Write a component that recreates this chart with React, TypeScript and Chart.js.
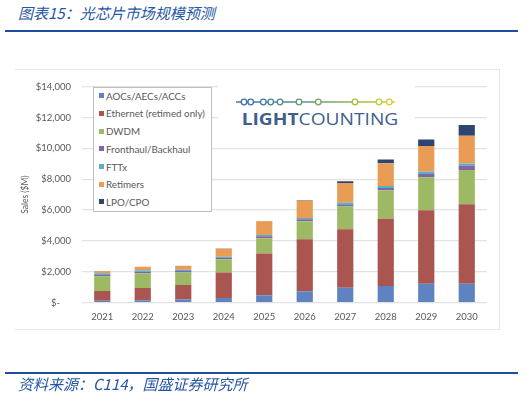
import React, { useEffect, useRef } from "react";
import { Chart, registerables } from "chart.js";

Chart.register(...registerables);

const categories = ["2021", "2022", "2023", "2024", "2025", "2026", "2027", "2028", "2029", "2030"];
const aocs = [120, 140, 200, 300, 475, 730, 960, 1065, 1210, 1210];
const ethernet = [630, 800, 930, 1650, 2700, 3380, 3800, 4370, 4770, 5170];
const dwdm = [950, 950, 820, 850, 990, 1160, 1460, 1840, 2150, 2220];
const fronthaul = [90, 100, 100, 80, 130, 125, 100, 150, 210, 280];
const fttx = [100, 100, 70, 80, 80, 80, 150, 130, 150, 145];
const retimers = [150, 230, 270, 530, 890, 1140, 1290, 1480, 1670, 1790];
const lpo = [0, 0, 0, 10, 20, 30, 100, 250, 420, 700];

const seriesNames = [
  "AOCs/AECs/ACCs",
  "Ethernet (retimed only)",
  "DWDM",
  "Fronthaul/Backhaul",
  "FTTx",
  "Retimers",
  "LPO/CPO",
];
const seriesColors = ["#5F83C1", "#AA5550", "#9DB964", "#7F66A6", "#5BAEC8", "#E99C56", "#2E4571"];
const seriesData = [aocs, ethernet, dwdm, fronthaul, fttx, retimers, lpo];

const yTicks = [0, 2000, 4000, 6000, 8000, 10000, 12000, 14000];

const logoCircles = [244, 250.7, 263.3, 270.7, 280, 299, 318.3, 355, 379, 389.3];
const logoColors = ["#3f73a8", "#3f73a8", "#437aa6", "#4a82a0", "#4f8a95", "#5f9a76", "#76a85a", "#a9bf3c", "#c7c93a", "#d3cd3a"];

export default function App() {
  const ref = useRef<HTMLCanvasElement | null>(null);

  useEffect(() => {
    if (!ref.current) return;
    const chart = new Chart(ref.current, {
      type: "bar",
      data: {
        labels: categories,
        datasets: seriesData.map((d, i) => ({
          label: seriesNames[i],
          data: d,
          backgroundColor: seriesColors[i],
          borderWidth: 0,
          categoryPercentage: 0.4,
          barPercentage: 1,
        })),
      },
      options: {
        animation: false,
        responsive: false,
        maintainAspectRatio: false,
        layout: { padding: { top: 11.5, right: 12, left: 0, bottom: 0 } },
        plugins: { legend: { display: false }, tooltip: { enabled: false } },
        scales: {
          x: {
            stacked: true,
            grid: { display: false, drawTicks: false },
            border: { display: false },
            ticks: { color: "#595959", font: { family: "Lato", size: 9.5 }, padding: 9 },
            afterFit: (s: any) => {
              s.height = 25.5;
            },
          },
          y: {
            stacked: true,
            min: 0,
            max: 14000,
            afterBuildTicks: (s: any) => {
              s.ticks = yTicks.map((v) => ({ value: v }));
            },
            grid: { color: "#e2e2e2", lineWidth: 1.2, drawTicks: false },
            border: { display: false },
            ticks: {
              color: "#595959",
              font: { family: "Lato", size: 9.5 },
              padding: 11,
              callback: (v: any) => (Number(v) === 0 ? "$-\u2007\u2007" : "$" + Number(v).toLocaleString("en-US")),
            },
            title: {
              display: true,
              text: "Sales ($M)",
              color: "#595959",
              font: { family: "Lato", size: 8.5 },
              padding: { top: 5.5, bottom: 0 },
            },
            afterFit: (s: any) => {
              s.width = 67;
            },
          },
        },
      },
    });
    return () => chart.destroy();
  }, []);

  const blue = "#1F4E9A";

  return (
    <div style={{ position: "absolute", left: 0, top: 0, width: 526, height: 397, background: "#fff", overflow: "hidden" }}>
      <div
        style={{
          position: "absolute",
          left: 18,
          top: 3,
          fontFamily: "'Noto Sans CJK SC', sans-serif",
          fontStyle: "italic",
          fontSize: 15,
          lineHeight: "20px",
          color: "#2656a3",
          whiteSpace: "nowrap",
        }}
      >
        图表15：光芯片市场规模预测
      </div>
      <div style={{ position: "absolute", left: 5, top: 29.5, width: 513, height: 2, background: blue }} />

      <div
        style={{
          position: "absolute",
          left: 15,
          top: 69,
          width: 484,
          height: 259,
          borderTop: "1px solid #e6e6e6",
          borderRight: "1px solid #e6e6e6",
          borderBottom: "1px solid #e6e6e6",
        }}
      />
      <canvas ref={ref} width={484} height={258} style={{ position: "absolute", left: 15, top: 70, width: 484, height: 258 }} />

      <div
        style={{
          position: "absolute",
          left: 92.5,
          top: 86.5,
          width: 117.5,
          height: 123.5,
          border: "1px solid #bfbfbf",
          background: "#fff",
        }}
      />
      {seriesNames.map((n, i) => (
        <div
          key={n}
          style={{
            position: "absolute",
            left: 98.5,
            top: 95.7 + 17.7 * i - 7,
            height: 14,
            display: "flex",
            alignItems: "center",
            fontFamily: "Lato, sans-serif",
            fontSize: 9.8,
            color: "#595959",
            whiteSpace: "nowrap",
          }}
        >
          <span style={{ display: "inline-block", width: 5, height: 5, background: seriesColors[i], marginRight: 2.5 }} />
          <span>{n}</span>
        </div>
      ))}

      <div style={{ position: "absolute", left: 218, top: 86, width: 197, height: 46, background: "#fff" }} />
      <svg style={{ position: "absolute", left: 0, top: 0 }} width={526} height={397}>
        <defs>
          <linearGradient id="lg" x1="236" y1="0" x2="395" y2="0" gradientUnits="userSpaceOnUse">
            <stop offset="0" stopColor="#3f73a8" />
            <stop offset="0.4" stopColor="#55918a" />
            <stop offset="0.7" stopColor="#8fb24a" />
            <stop offset="1" stopColor="#d8cf3a" />
          </linearGradient>
        </defs>
        <line x1={236} y1={102} x2={395} y2={102} stroke="url(#lg)" strokeWidth={1.4} />
        {logoCircles.map((cx, i) => (
          <circle key={i} cx={cx} cy={102} r={2.8} fill="#fff" stroke={logoColors[i]} strokeWidth={1.3} />
        ))}
        <text
          x={241.7}
          y={124.7}
          textLength={156.6}
          lengthAdjust="spacingAndGlyphs"
          fontFamily="'Open Sans', sans-serif"
          fontSize={16.5}
          fill="#3E5F8C"
        >
          <tspan fontWeight={700}>LIGHT</tspan>
          <tspan fontWeight={400}>COUNTING</tspan>
        </text>
      </svg>

      <div style={{ position: "absolute", left: 5, top: 372, width: 513, height: 2, background: blue }} />
      <div
        style={{
          position: "absolute",
          left: 18,
          top: 374,
          fontFamily: "'Noto Sans CJK SC', sans-serif",
          fontStyle: "italic",
          fontSize: 15,
          lineHeight: "20px",
          color: "#2656a3",
          whiteSpace: "nowrap",
        }}
      >
        资料来源：C114，国盛证券研究所
      </div>
    </div>
  );
}
